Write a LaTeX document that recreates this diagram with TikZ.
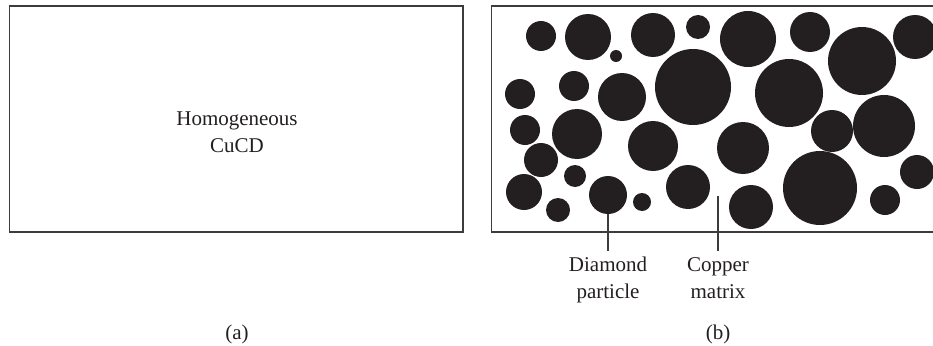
\documentclass[tikz,border=0pt]{standalone}
\usepackage{fontspec}
\setmainfont{Liberation Serif}
\usetikzlibrary{positioning}
\definecolor{inkdark}{HTML}{231F20}
\definecolor{framegray}{HTML}{3C3C3C}

\begin{document}
\begin{tikzpicture}[x=1pt,y=-1pt,
		frame/.style={draw=framegray, line width=1.3pt},
		particle/.style={fill=inkdark},
		leader/.style={draw=framegray, line width=1.1pt},
		caption/.style={font=\fontsize{21}{27}\selectfont, align=center, text=inkdark, inner sep=0pt}]
		\useasboundingbox (0,0) rectangle (933,345);
		% Panel (a): homogeneous composite
		\draw[frame] (9.5,6) rectangle (463,232);
		\node[caption] (homog) at (237,132) {Homogeneous\\CuCD};
		\node[caption] (capa) at (237,334) {(a)};

		% Panel (b): diamond particles in copper matrix
		\draw[frame] (491.5,6) rectangle (945,232);
		\foreach \cx/\cy/\r in {541/36/15, 588/37/23, 616/56/6, 653/35/22, 698/27/12, 748/39/28, 810/32/20, 862/61/34, 915/37/22,
				520/94/15, 574/86/15, 622/97/24, 693/87/38, 789/93/34,
				525/130/15, 577/134/25, 653/146/25, 743/148/26, 832/131/21, 884/126/31,
				541/160/17, 575/176/11, 917/172/17,
				524/192/18, 558/210/12, 642/202/9, 688/187/22, 751/207/22, 820/188/37, 885/200/15}
			\fill[particle] (\cx,\cy) circle[radius=\r pt];
		\node[particle, circle, minimum size=38pt, inner sep=0pt] (diam) at (608,195) {};
		\coordinate (matrix) at (718,196);

		% Labels and leaders
		\node[caption, anchor=north] (dlab) at (608,257) {Diamond\\particle};
		\node[caption, anchor=north] (mlab) at (718,257) {Copper\\matrix};
		\draw[leader] (diam.south) -- ([yshift=6pt]dlab.north);
		\draw[leader] (matrix) -- ([yshift=6pt]mlab.north);
		\node[caption] (capb) at (718,334) {(b)};
	\end{tikzpicture}
\end{document}
